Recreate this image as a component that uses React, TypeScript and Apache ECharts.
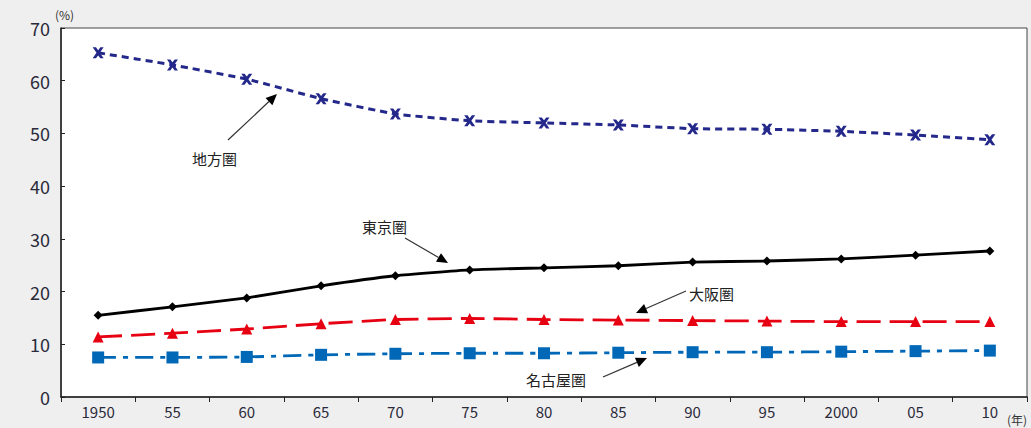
import React, { useEffect, useRef } from "react";
import * as echarts from "echarts";

const categories = ["1950", "55", "60", "65", "70", "75", "80", "85", "90", "95", "2000", "05", "10"];
const chihou = [65.3, 63.0, 60.3, 56.6, 53.7, 52.4, 52.0, 51.6, 50.9, 50.8, 50.4, 49.7, 48.8];
const tokyo = [15.5, 17.1, 18.8, 21.1, 23.0, 24.1, 24.5, 24.9, 25.6, 25.8, 26.2, 26.9, 27.7];
const osaka = [11.4, 12.1, 12.9, 13.9, 14.7, 14.9, 14.7, 14.6, 14.5, 14.4, 14.3, 14.3, 14.3];
const nagoya = [7.5, 7.5, 7.6, 8.0, 8.2, 8.3, 8.3, 8.4, 8.5, 8.5, 8.6, 8.7, 8.8];
const yTicks = [0, 10, 20, 30, 40, 50, 60, 70];

const FONT = "'Noto Sans CJK JP', 'Noto Sans', sans-serif";
const X_SYMBOL = "path://M0,0 L3,0 L5,2.6 L7,0 L10,0 L6.5,5 L10,10 L7,10 L5,7.4 L3,10 L0,10 L3.5,5 Z";

function arrow(x1: number, y1: number, x2: number, y2: number): any[] {
  const dx = x2 - x1;
  const dy = y2 - y1;
  const len = Math.sqrt(dx * dx + dy * dy);
  const ux = dx / len;
  const uy = dy / len;
  const nx = -uy;
  const ny = ux;
  const hl = 11;
  const hw = 5;
  const bx = x2 - ux * hl;
  const by = y2 - uy * hl;
  return [
    {
      type: "line",
      shape: { x1, y1, x2: bx, y2: by },
      style: { stroke: "#333", lineWidth: 1.2 },
      z: 100,
    },
    {
      type: "polygon",
      shape: {
        points: [
          [x2, y2],
          [bx + nx * hw, by + ny * hw],
          [bx - nx * hw, by - ny * hw],
        ],
      },
      style: { fill: "#000" },
      z: 100,
    },
  ];
}

function label(text: string, x: number, y: number): any {
  return {
    type: "text",
    x,
    y,
    style: { text, fill: "#222", font: `15px ${FONT}`, textVerticalAlign: "middle" },
    z: 100,
  };
}

export default function App() {
  const ref = useRef<HTMLDivElement>(null);
  useEffect(() => {
    if (!ref.current) return;
    const chart = echarts.init(ref.current, undefined, { renderer: "svg" });
    chart.setOption({
      animation: false,
      backgroundColor: "#efefef",
      grid: {
        left: 61,
        right: 4,
        top: 28,
        bottom: 31,
        show: true,
        backgroundColor: "#ffffff",
        borderColor: "#444",
        borderWidth: 1,
      },
      xAxis: {
        type: "category",
        data: categories,
        boundaryGap: true,
        axisLine: { lineStyle: { color: "#222", width: 1.5 } },
        axisTick: { show: true, inside: false, length: 5, alignWithLabel: false, lineStyle: { color: "#222" } },
        axisLabel: { color: "#2a2a3a", fontSize: 15, fontFamily: FONT, margin: 7 },
      },
      yAxis: {
        type: "value",
        min: 0,
        max: 70,
        interval: 10,
        axisLine: { show: true, lineStyle: { color: "#222", width: 1.5 } },
        axisTick: { show: true, inside: true, length: 4, lineStyle: { color: "#222" } },
        splitLine: { show: false },
        axisLabel: {
          color: "#2a2a3a",
          fontSize: 18,
          fontFamily: FONT,
          margin: 11,
          formatter: (v: number) => (yTicks.includes(v) ? String(v) : ""),
        },
      },
      series: [
        {
          name: "地方圏",
          type: "line",
          data: chihou,
          smooth: 0.15,
          symbol: X_SYMBOL,
          symbolSize: 11,
          itemStyle: { color: "#23288a" },
          lineStyle: { color: "#23288a", width: 3, type: [7, 5] },
        },
        {
          name: "東京圏",
          type: "line",
          data: tokyo,
          smooth: 0.15,
          symbol: "diamond",
          symbolSize: 9,
          itemStyle: { color: "#000" },
          lineStyle: { color: "#000", width: 2.8, type: "solid" },
        },
        {
          name: "大阪圏",
          type: "line",
          data: osaka,
          smooth: 0.15,
          symbol: "triangle",
          symbolSize: 11,
          itemStyle: { color: "#e60012" },
          lineStyle: { color: "#e60012", width: 2.8, type: [24, 9] },
        },
        {
          name: "名古屋圏",
          type: "line",
          data: nagoya,
          smooth: 0.15,
          symbol: "rect",
          symbolSize: 12,
          itemStyle: { color: "#0068b7" },
          lineStyle: { color: "#0068b7", width: 2.8, type: [18, 7, 5, 7] },
        },
      ],
      graphic: [
        {
          type: "text",
          x: 55,
          y: 14,
          style: { text: "(%)", fill: "#333", font: `12px ${FONT}`, textVerticalAlign: "middle" },
        },
        {
          type: "text",
          x: 1007,
          y: 419,
          style: { text: "(年)", fill: "#333", font: `12px ${FONT}`, textVerticalAlign: "middle" },
        },
        label("地方圏", 192, 158),
        ...arrow(228, 140, 277, 94),
        label("東京圏", 362, 226),
        ...arrow(405, 238, 448, 263),
        label("大阪圏", 689, 293),
        ...arrow(686, 291, 636, 313),
        label("名古屋圏", 526, 379),
        ...arrow(603, 377, 647, 358),
      ],
    });
    return () => chart.dispose();
  }, []);
  return (
    <div
      ref={ref}
      style={{ position: "fixed", left: 0, top: 0, width: 1031, height: 428 }}
    />
  );
}
